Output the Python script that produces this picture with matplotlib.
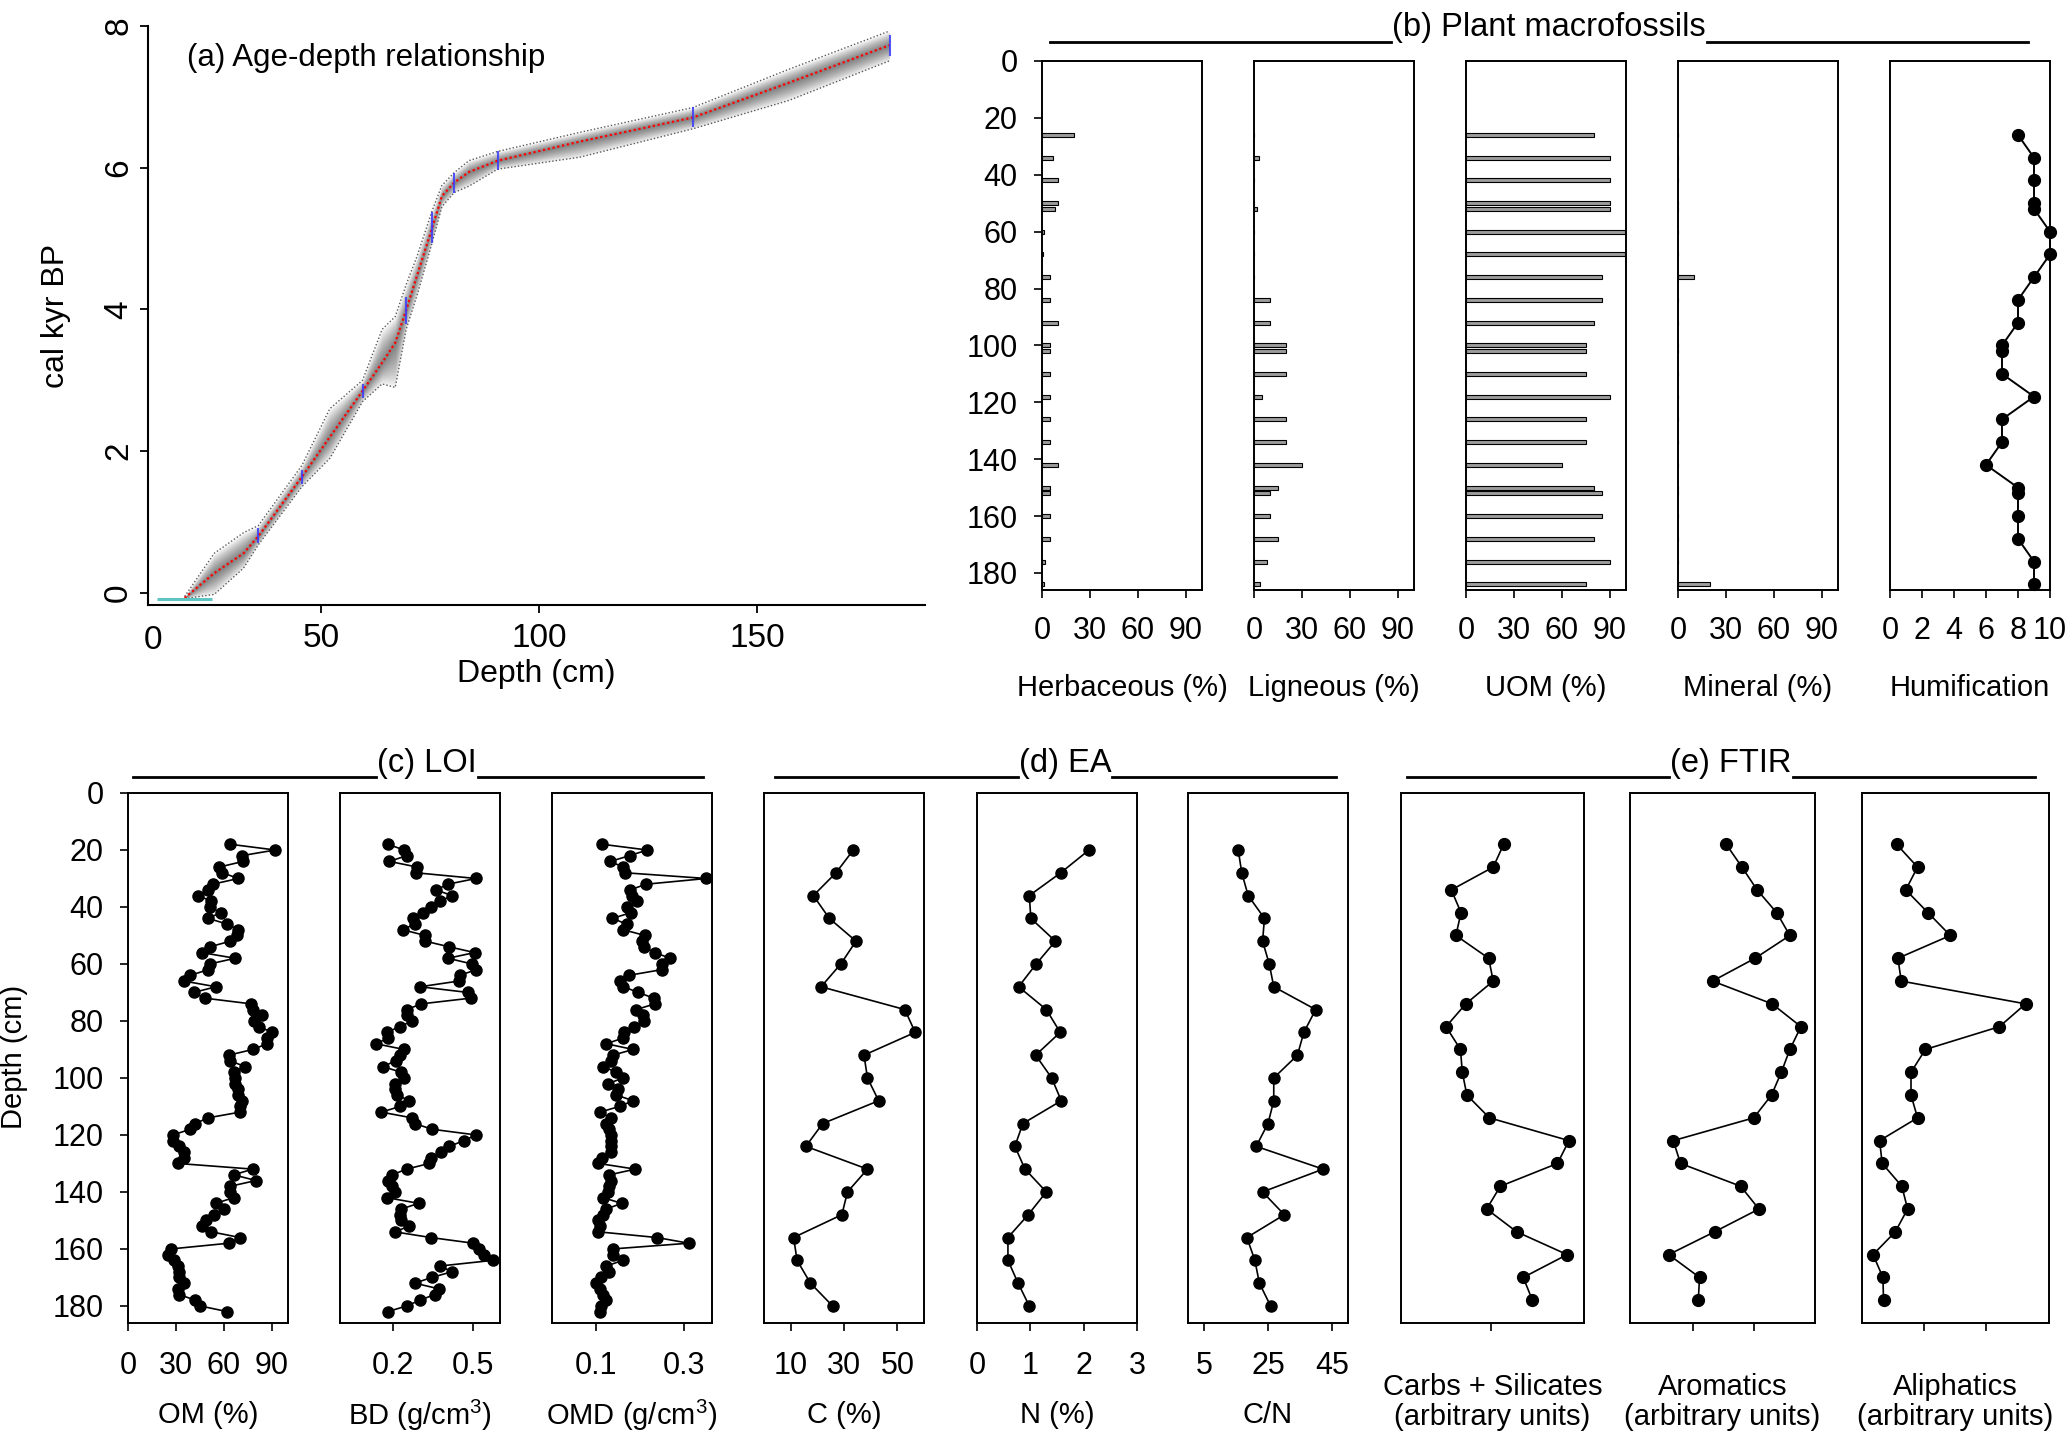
import matplotlib
matplotlib.use('Agg')
import matplotlib.pyplot as plt
import numpy as np
from matplotlib.lines import Line2D

plt.rcParams['font.family'] = ['Liberation Sans', 'DejaVu Sans']
plt.rcParams['mathtext.fontset'] = 'custom'
plt.rcParams['mathtext.rm'] = 'Liberation Sans'
plt.rcParams['mathtext.it'] = 'Liberation Sans:italic'
plt.rcParams['mathtext.bf'] = 'Liberation Sans:bold'

# ---------------- DATA ----------------
# (a) age-depth model
ad_depth = [18.7, 25.5, 32.2, 35.6, 45.6, 52.0, 59.5, 64.0, 67.0, 69.5, 72.0, 75.5, 77.7, 80.5,
            83.9, 90.5, 109.4, 135.3, 157.3, 180.4]
ad_mean = [-0.07, 0.28, 0.56, 0.80, 1.64, 2.20, 2.85, 3.25, 3.53, 3.99, 4.48, 5.16, 5.60, 5.79,
           5.94, 6.10, 6.37, 6.71, 7.20, 7.73]
ad_upper = [-0.05, 0.56, 0.85, 0.95, 1.80, 2.60, 3.00, 3.72, 3.90, 4.35, 4.75, 5.40, 5.75, 5.93,
            6.10, 6.23, 6.50, 6.85, 7.39, 7.93]
ad_lower = [-0.08, -0.02, 0.35, 0.68, 1.50, 1.90, 2.70, 2.95, 2.90, 3.72, 4.20, 4.95, 5.45, 5.65,
            5.74, 5.98, 6.15, 6.55, 6.95, 7.51]
date_depth = [35.6, 45.6, 59.5, 69.5, 75.5, 80.5, 90.5, 135.3, 180.4]
date_age = [0.81, 1.64, 2.85, 3.99, 5.16, 5.79, 6.10, 6.71, 7.73]
date_halfrange = [0.10, 0.10, 0.10, 0.19, 0.22, 0.14, 0.13, 0.14, 0.15]
surface_age = -0.085
surface_depth_range = [12.4, 25.0]

# (b) plant macrofossils
macro_depth = [26, 34, 42, 50, 52, 60, 68, 76, 84, 92, 100, 102, 110, 118, 126, 134, 142,
               150, 152, 160, 168, 176, 184]
herbaceous = [20, 7, 10, 10, 8, 1, 0.5, 5, 5, 10, 5, 5, 5, 5, 5, 5, 10, 5, 5, 5, 5, 2, 1]
ligneous = [0, 3, 0, 0, 2, 0, 0, 0, 10, 10, 20, 20, 20, 5, 20, 20, 30, 15, 10, 10, 15, 8, 4]
uom = [80, 90, 90, 90, 90, 99.5, 99.5, 85, 85, 80, 75, 75, 75, 90, 75, 75, 60, 80, 85, 85,
       80, 90, 75]
mineral = [0, 0, 0, 0, 0, 0, 0, 10, 0, 0, 0, 0, 0, 0, 0, 0, 0, 0, 0, 0, 0, 0, 20]
humification = [8, 9, 9, 9, 9, 10, 10, 9, 8, 8, 7, 7, 7, 9, 7, 7, 6, 8, 8, 8, 8, 9, 9]

# (c) LOI
loi_depth = [18, 20, 22, 24, 26, 28, 30, 32, 34, 36, 38, 40, 42, 44, 46, 48, 50, 52, 54, 56,
             58, 60, 62, 64, 66, 68, 70, 72, 74, 76, 78, 80, 82, 84, 86, 88, 90, 92, 94, 96,
             98, 100, 102, 104, 106, 108, 110, 112, 114, 116, 118, 120, 122, 124, 126, 128,
             130, 132, 134, 136, 138, 140, 142, 144, 146, 148, 150, 152, 154, 156, 158, 160,
             162, 164, 166, 168, 170, 172, 174, 176, 178, 180, 182]
om = [64, 92, 71, 72, 57, 59, 69, 53, 50, 44, 52, 51, 58, 50, 62, 69, 68, 64, 51, 46,
      67, 51, 50, 39, 35, 55, 41, 48, 77, 78, 84, 79, 82, 90, 87, 87, 78, 63, 64, 73,
      66, 67, 67, 69, 69, 71, 70, 70, 50, 42, 39, 28, 28, 32, 35, 35,
      31, 78, 66, 80, 64, 64, 66, 55, 60, 54, 49, 46, 52, 70, 63, 27,
      25, 29, 31, 32, 32, 35, 31, 32, 42, 45, 62]
bd = [0.18, 0.24, 0.25, 0.185, 0.29, 0.285, 0.51, 0.405, 0.36, 0.42, 0.375, 0.34, 0.31,
      0.275, 0.28, 0.235, 0.32, 0.32, 0.41, 0.505, 0.405, 0.495, 0.51, 0.45, 0.445, 0.30,
      0.48, 0.49, 0.305, 0.25, 0.25, 0.27, 0.225, 0.175, 0.18, 0.135, 0.24, 0.225, 0.21,
      0.16, 0.23, 0.24, 0.205, 0.205, 0.215, 0.26, 0.225, 0.155, 0.27, 0.28, 0.345, 0.51,
      0.465, 0.41, 0.38, 0.34, 0.335, 0.25, 0.195, 0.18, 0.195, 0.205, 0.175, 0.295, 0.23,
      0.225, 0.23, 0.26, 0.205, 0.34, 0.50, 0.52, 0.54, 0.575, 0.375, 0.42, 0.345, 0.28,
      0.37, 0.355, 0.30, 0.25, 0.18]
omd = [0.115, 0.217, 0.177, 0.133, 0.162, 0.167, 0.352, 0.215, 0.178, 0.183, 0.194, 0.171,
       0.18, 0.138, 0.17, 0.163, 0.212, 0.206, 0.21, 0.234, 0.27, 0.252, 0.25, 0.175, 0.155,
       0.163, 0.197, 0.232, 0.235, 0.192, 0.207, 0.21, 0.187, 0.165, 0.162, 0.124, 0.185,
       0.139, 0.135, 0.116, 0.147, 0.162, 0.128, 0.15, 0.147, 0.185, 0.154, 0.109, 0.135,
       0.124, 0.131, 0.135, 0.135, 0.135, 0.135, 0.113, 0.106, 0.19, 0.131, 0.135, 0.131,
       0.128, 0.116, 0.159, 0.124, 0.116, 0.106, 0.109, 0.106, 0.239, 0.312, 0.139, 0.139,
       0.162, 0.124, 0.131, 0.112, 0.101, 0.109, 0.116, 0.124, 0.112, 0.109]

# (d) EA
ea_depth = [20, 28, 36, 44, 52, 60, 68, 76, 84, 92, 100, 108, 116, 124, 132, 140, 148, 156,
            164, 172, 180]
carbon = [33.5, 27, 18.5, 24.5, 34.5, 28.8, 21.4, 52.8, 56.7, 37.5, 38.8, 43, 22, 15.7, 38.8,
          31.3, 29.2, 11.1, 12.4, 17.4, 25.7]
nitrogen = [2.1, 1.57, 0.98, 1.01, 1.47, 1.11, 0.78, 1.30, 1.56, 1.1, 1.40, 1.58, 0.86, 0.71,
            0.9, 1.3, 0.96, 0.58, 0.58, 0.77, 0.98]
cn_ratio = [15.7, 16.8, 18.8, 23.9, 23.3, 25.4, 26.8, 39.9, 36.2, 34.2, 26.8, 26.8, 25, 21.3,
            42.2, 23.3, 30.1, 18.4, 20.9, 22.3, 25.8]

# (e) FTIR (arbitrary units)
ftir_depth = [18, 26, 34, 42, 50, 58, 66, 74, 82, 90, 98, 106, 114, 122, 130, 138, 146, 154,
              162, 170, 178]
carbs_silicates = [0.561, 0.504, 0.275, 0.328, 0.30, 0.479, 0.504, 0.354, 0.246, 0.325, 0.335,
                   0.36, 0.483, 0.918, 0.855, 0.543, 0.468, 0.632, 0.908, 0.668, 0.718]
aromatics = [0.52, 0.605, 0.687, 0.793, 0.864, 0.676, 0.446, 0.768, 0.924, 0.864, 0.818,
             0.765, 0.669, 0.234, 0.273, 0.598, 0.697, 0.457, 0.209, 0.376, 0.369]
aliphatics = [0.185, 0.297, 0.234, 0.353, 0.472, 0.192, 0.21, 0.875, 0.735, 0.339, 0.262,
              0.262, 0.297, 0.094, 0.108, 0.213, 0.244, 0.178, 0.059, 0.112, 0.115]

depth_ticks = [0, 20, 40, 60, 80, 100, 120, 140, 160, 180]

# ---------------- FIGURE ----------------
W, H = 2067, 1437
fig = plt.figure(figsize=(W / 100, H / 100), dpi=100)


def px_axes(x0, y0, x1, y1):
    return fig.add_axes([x0 / W, 1 - y1 / H, (x1 - x0) / W, (y1 - y0) / H])


TICK_FS = 22
LAB_FS = 21

# ---------- (a) Age-depth ----------
axa = px_axes(148, 26, 925, 605)
axa.spines['top'].set_visible(False)
axa.spines['right'].set_visible(False)
for s in ['left', 'bottom']:
    axa.spines[s].set_linewidth(1.5)
d = np.array(ad_depth)
m = np.array(ad_mean)
up = np.array(ad_upper)
lo = np.array(ad_lower)
n_layers = 14
for k in range(1, n_layers + 1):
    f = k / n_layers
    axa.fill_between(d, m - f * (m - lo), m + f * (up - m), color='black', alpha=0.045, lw=0)
axa.plot(d, up, ls=(0, (1, 1.5)), color='0.35', lw=1.0)
axa.plot(d, lo, ls=(0, (1, 1.5)), color='0.35', lw=1.0)
axa.plot(d, m, ls=(0, (1, 1.2)), color='red', lw=1.6)
da = np.array(date_age)
hr = np.array(date_halfrange)
axa.vlines(date_depth, da - hr, da + hr, color='#3a3aff', lw=1.5, alpha=0.85)
axa.hlines(surface_age, surface_depth_range[0], surface_depth_range[1], color='#5fc4c4', lw=2.2)
axa.set_xlim(10.3, 188.5)
axa.set_ylim(-0.17, 8.0)
axa.set_xticks([50, 100, 150])
axa.set_xticklabels(['50', '100', '150'])
axa.set_yticks([0, 2, 4, 6, 8])
axa.set_yticklabels(['0', '2', '4', '6', '8'])
axa.tick_params(axis='both', direction='out', length=6, width=1.3, labelsize=24)
axa.tick_params(axis='x', pad=7)
axa.tick_params(axis='y', pad=4, labelrotation=90)
for lab in axa.get_yticklabels():
    lab.set_va('center')
fig.text(153 / W, 1 - 640 / H, '0', ha='center', va='center', fontsize=24)
axa.set_xlabel('Depth (cm)', fontsize=23, va='center')
axa.xaxis.set_label_coords(0.5, (605 - 674) / 579)
axa.set_ylabel('cal kyr BP', fontsize=23, va='center', ha='center', rotation=90,
               rotation_mode='default')
axa.yaxis.set_label_coords((56 - 148) / 777, 0.5)
axa.text(187 / W, 1 - 58 / H, '(a) Age-depth relationship', transform=fig.transFigure,
         ha='left', va='center', fontsize=22.5)


def style_box(ax, xlim, xticks, xticklabels, ylab=False, pad=13):
    ax.set_ylim(186, 0)
    ax.set_xlim(*xlim)
    for s in ax.spines.values():
        s.set_linewidth(1.4)
    ax.set_xticks(xticks)
    ax.set_xticklabels(xticklabels)
    ax.tick_params(axis='x', direction='out', length=6, width=1.2, labelsize=TICK_FS, pad=pad)
    if ylab:
        ax.set_yticks(depth_ticks)
        ax.set_yticklabels([str(t) for t in depth_ticks])
        ax.tick_params(axis='y', direction='out', length=6, width=1.2, labelsize=TICK_FS,
                       pad=11.5)
    else:
        ax.set_yticks([])


# ---------- (b) Plant macrofossils ----------
b_boxes = [(1042, 1202), (1254, 1414), (1466, 1626), (1678, 1838), (1890, 2050)]
b_series = [herbaceous, ligneous, uom, mineral]
b_labels = ['Herbaceous (%)', 'Ligneous (%)', 'UOM (%)', 'Mineral (%)', 'Humification']
pct_ticks = [0, 30, 60, 90]
for i, (x0, x1) in enumerate(b_boxes):
    ax = px_axes(x0, 61, x1, 590)
    if i < 4:
        ax.barh(macro_depth, b_series[i], height=1.4, color='#9c9c9c', edgecolor='black',
                linewidth=0.8)
        style_box(ax, (0, 100), pct_ticks, [str(t) for t in pct_ticks], ylab=(i == 0), pad=13)
    else:
        ax.plot(humification, macro_depth, 'o-', color='black', ms=8.5, lw=1.4, clip_on=False)
        hum_ticks = [0, 2, 4, 6, 8, 10]
        style_box(ax, (0, 10), hum_ticks, [str(t) for t in hum_ticks], pad=13)
    ax.set_xlabel(b_labels[i], fontsize=LAB_FS, va='center')
    ax.xaxis.set_label_coords(0.5, (590 - 688) / 529)

# ---------- (c) LOI, (d) EA, (e) FTIR ----------
low_top, low_bot = 793, 1323
lower_specs = [
    ((128, 288), om, loi_depth, (0, 100), [0, 30, 60, 90], ['0', '30', '60', '90'], 'OM (%)'),
    ((340, 500), bd, loi_depth, (0, 0.6), [0.2, 0.5], ['0.2', '0.5'], 'BD (g/cm$^3$)'),
    ((552, 712), omd, loi_depth, (0, 0.365), [0.1, 0.3], ['0.1', '0.3'], 'OMD (g/cm$^3$)'),
    ((764, 924), carbon, ea_depth, (0, 60), [10, 30, 50], ['10', '30', '50'], 'C (%)'),
    ((977, 1137), nitrogen, ea_depth, (0, 3), [0, 1, 2, 3], ['0', '1', '2', '3'], 'N (%)'),
    ((1188, 1348), cn_ratio, ea_depth, (0, 50), [5, 25, 45], ['5', '25', '45'], 'C/N'),
    ((1401, 1584), carbs_silicates, ftir_depth, (0, 1), [0.49], [''],
     'Carbs + Silicates\n(arbitrary units)'),
    ((1630, 1815), aromatics, ftir_depth, (0, 1), [0.34, 0.67], ['', ''],
     'Aromatics\n(arbitrary units)'),
    ((1862, 2049), aliphatics, ftir_depth, (0, 1), [0.33, 0.665], ['', ''],
     'Aliphatics\n(arbitrary units)'),
]
for j, ((x0, x1), vals, dep, xl, xt, xtl, lab) in enumerate(lower_specs):
    ax = px_axes(x0, low_top, x1, low_bot)
    ms = 8.5 if j >= 6 else 8
    ax.plot(vals, dep, 'o-', color='black', ms=ms, lw=1.2, clip_on=False)
    style_box(ax, xl, xt, xtl, ylab=(j == 0), pad=14.5)
    ax.set_xlabel(lab, fontsize=LAB_FS, va='center', linespacing=1.05)
    if j >= 6:
        ax.xaxis.set_label_coords(0.5, (low_bot - 1402) / (low_bot - low_top))
    else:
        ax.xaxis.set_label_coords(0.5, (low_bot - 1415) / (low_bot - low_top))

fig.text(14 / W, 1 - 1057 / H, 'Depth (cm)', rotation=90, ha='center', va='center',
         fontsize=LAB_FS)

# ---------- group titles with underlines ----------
titles = [
    ('(b) Plant macrofossils', 1549, 36, 42, 1050, 2028),
    ('(c) LOI', 427, 772, 777, 133, 703),
    ('(d) EA', 1065, 772, 777, 775, 1336),
    ('(e) FTIR', 1731, 772, 777, 1407, 2035),
]
tobjs = []
for txt, cx, base, yl, xl0, xl1 in titles:
    t = fig.text(cx / W, 1 - base / H, txt, ha='center', va='baseline', fontsize=23.5)
    tobjs.append((t, yl, xl0, xl1))

fig.canvas.draw()
renderer = fig.canvas.get_renderer()
for t, yl, xl0, xl1 in tobjs:
    bb = t.get_window_extent(renderer)
    yf = 1 - yl / H
    fig.add_artist(Line2D([xl0 / W, (bb.x0 - 1) / W], [yf, yf], transform=fig.transFigure,
                          color='black', lw=2.0))
    fig.add_artist(Line2D([(bb.x1 + 1) / W, xl1 / W], [yf, yf], transform=fig.transFigure,
                          color='black', lw=2.0))

fig.savefig('out.png', dpi=100)
